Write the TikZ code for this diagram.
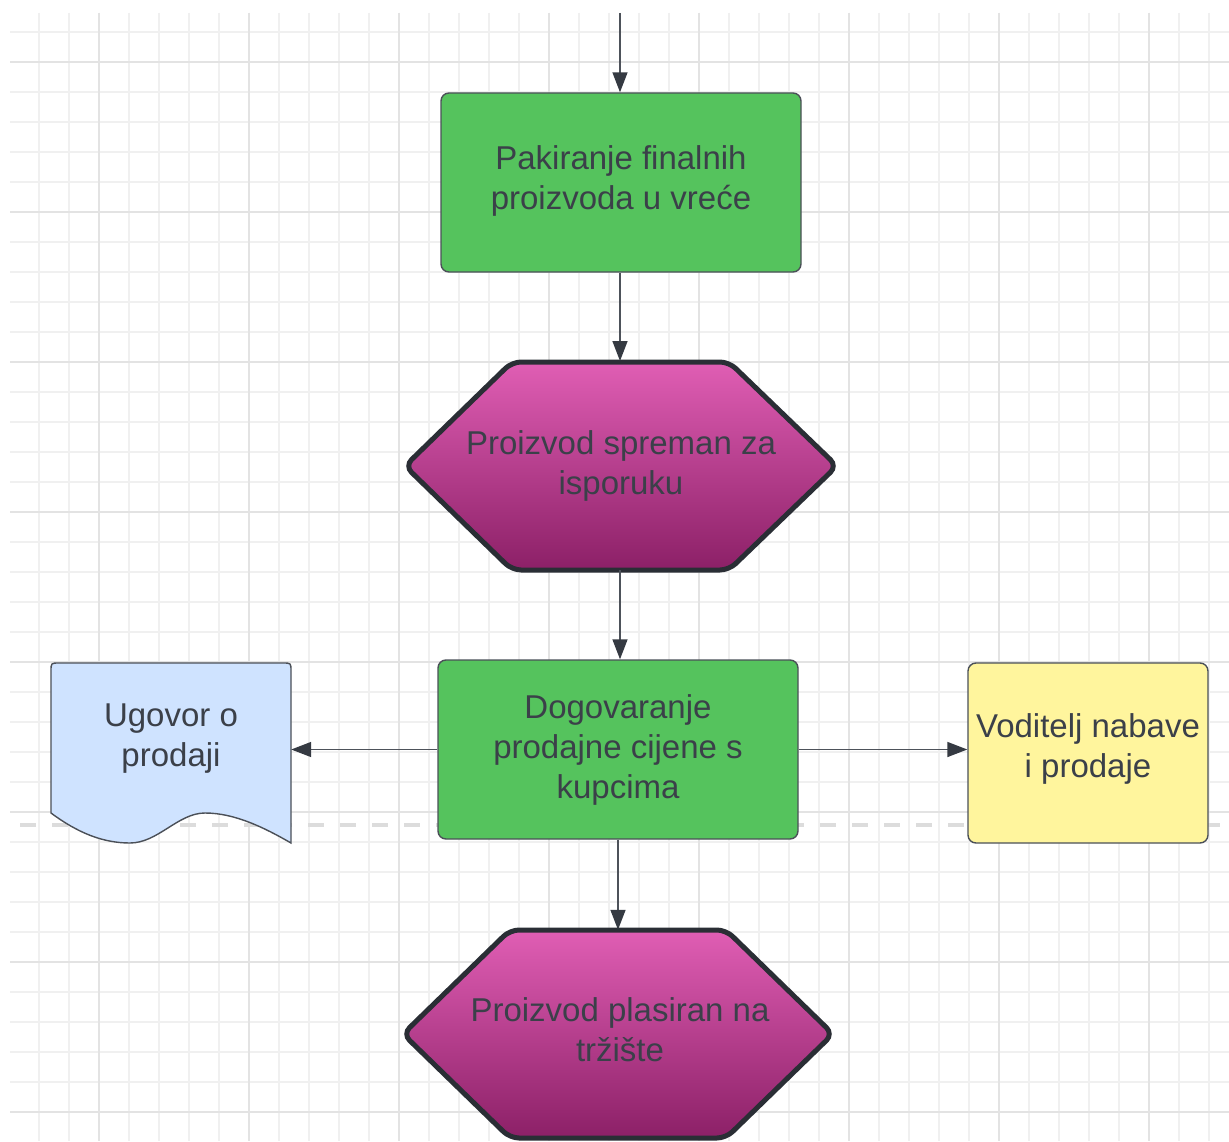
\documentclass[tikz,border=0pt]{standalone}
\usepackage{fontspec}
\setmainfont{Liberation Sans}
\usetikzlibrary{arrows.meta}
\definecolor{gridminor}{HTML}{F0F0F0}
\definecolor{gridmajor}{HTML}{E3E3E3}
\definecolor{dashgray}{HTML}{DCDCDC}
\definecolor{txt}{HTML}{3B4049}
\definecolor{boxline}{HTML}{4B5058}
\definecolor{conn}{HTML}{4D525A}
\definecolor{tipcol}{HTML}{353A42}
\definecolor{greenfill}{HTML}{55C35D}
\definecolor{docfill}{HTML}{CFE3FF}
\definecolor{yelfill}{HTML}{FFF59D}
\definecolor{hexline}{HTML}{2A2E35}
\definecolor{pinkT}{HTML}{E05EB4}
\definecolor{pinkM}{HTML}{C82F91}
\definecolor{pinkB}{HTML}{8C2067}
\tikzset{
  gmin/.style={draw=gridminor, line width=1.5pt},
  gmaj/.style={draw=gridmajor, line width=2pt},
  lbl/.style={text=txt, font=\fontsize{33}{40}\selectfont, align=center},
  procbox/.style={draw=boxline, line width=1.4pt, fill=greenfill, rounded corners=8pt,
    minimum width=360pt, minimum height=179pt, inner sep=0pt},
  yelbox/.style={draw=boxline, line width=1.4pt, fill=yelfill, rounded corners=8pt,
    minimum width=240pt, minimum height=180pt, inner sep=0pt},
  anchorbox/.style={draw=none, inner sep=0pt},
  hexshape/.style={draw=hexline, line width=5pt, rounded corners=9pt,
    top color=pinkT, middle color=pinkM, bottom color=pinkB},
  docshape/.style={draw=boxline, line width=1.4pt, fill=docfill},
  conn/.style={draw=conn, line width=1.5pt, -{Triangle[length=20pt,width=15pt,color=tipcol]}},
}
\begin{document}
\begin{tikzpicture}[x=1pt,y=-1pt]
\useasboundingbox (0,0) rectangle (1229,1142);
\fill[white] (0,0) rectangle (1229,1142);
% grid
\foreach \x in {39,69,...,1209} \draw[gmin] (\x,13) -- (\x,1141);
\foreach \y in {32,62,...,1112} \draw[gmin] (10,\y) -- (1229,\y);
\foreach \x in {99,249,...,1149} \draw[gmaj] (\x,13) -- (\x,1141);
\foreach \y in {62,212,...,1112} \draw[gmaj] (10,\y) -- (1229,\y);
% dashed separator
\draw[dashgray, line width=4pt, dash pattern=on 16pt off 16pt] (20,825) -- (1220,825);

% process boxes
\node[procbox] (box1) at (621,182.5) {};
\node[lbl] (box1text) at (621,181) {Pakiranje finalnih\\proizvoda u vreće};
\node[procbox] (box2) at (618,749.5) {};
\node[lbl] (box2text) at (618,750) {Dogovaranje\\prodajne cijene s\\kupcima};
\node[yelbox] (yel) at (1088,753) {};
\node[lbl] (yeltext) at (1088,749) {Voditelj nabave\\i prodaje};

% hexagon 1
\node[anchorbox, minimum width=432pt, minimum height=208pt] (hex1) at (621,466) {};
\path[hexshape] (405,466) -- (512,362) -- (729,362) -- (837,466) -- (729,570) -- (512,570) -- cycle;
\node[lbl] (hex1text) at (621,466) {Proizvod spreman za\\isporuku};

% hexagon 2
\node[anchorbox, minimum width=430pt, minimum height=208pt] (hex2) at (618,1034) {};
\path[hexshape] (403,1034) -- (510,930) -- (726,930) -- (833,1034) -- (726,1138) -- (510,1138) -- cycle;
\node[lbl] (hex2text) at (620,1030) {Proizvod plasiran na\\tržište};

% document
\node[anchorbox, minimum width=240pt, minimum height=180pt] (doc) at (171,753) {};
\path[docshape] (51,813) -- (51,671) .. controls (51,663) .. (59,663) -- (283,663)
  .. controls (291,663) .. (291,671) -- (291,843)
  .. controls (265,828) and (235,813) .. (205,813)
  .. controls (178,813) and (158,843) .. (130,843)
  .. controls (103,843) and (78,833) .. (51,813) -- cycle;
\node[lbl] (doctext) at (171,739) {Ugovor o\\prodaji};

% connectors
\coordinate (start) at (620,13);
\draw[conn] (start) -- (start |- box1.north);
\draw[conn] (box1.south -| 620,0) -- (620,361);
\draw[conn] (hex1.south -| 620,0) -- (box2.north -| 620,0);
\draw[conn] (box2.south) -- (hex2.north);
\draw[conn] (box2.west) -- (box2.west -| doc.east);
\draw[conn] (box2.east) -- (box2.east -| yel.west);
\end{tikzpicture}
\end{document}
